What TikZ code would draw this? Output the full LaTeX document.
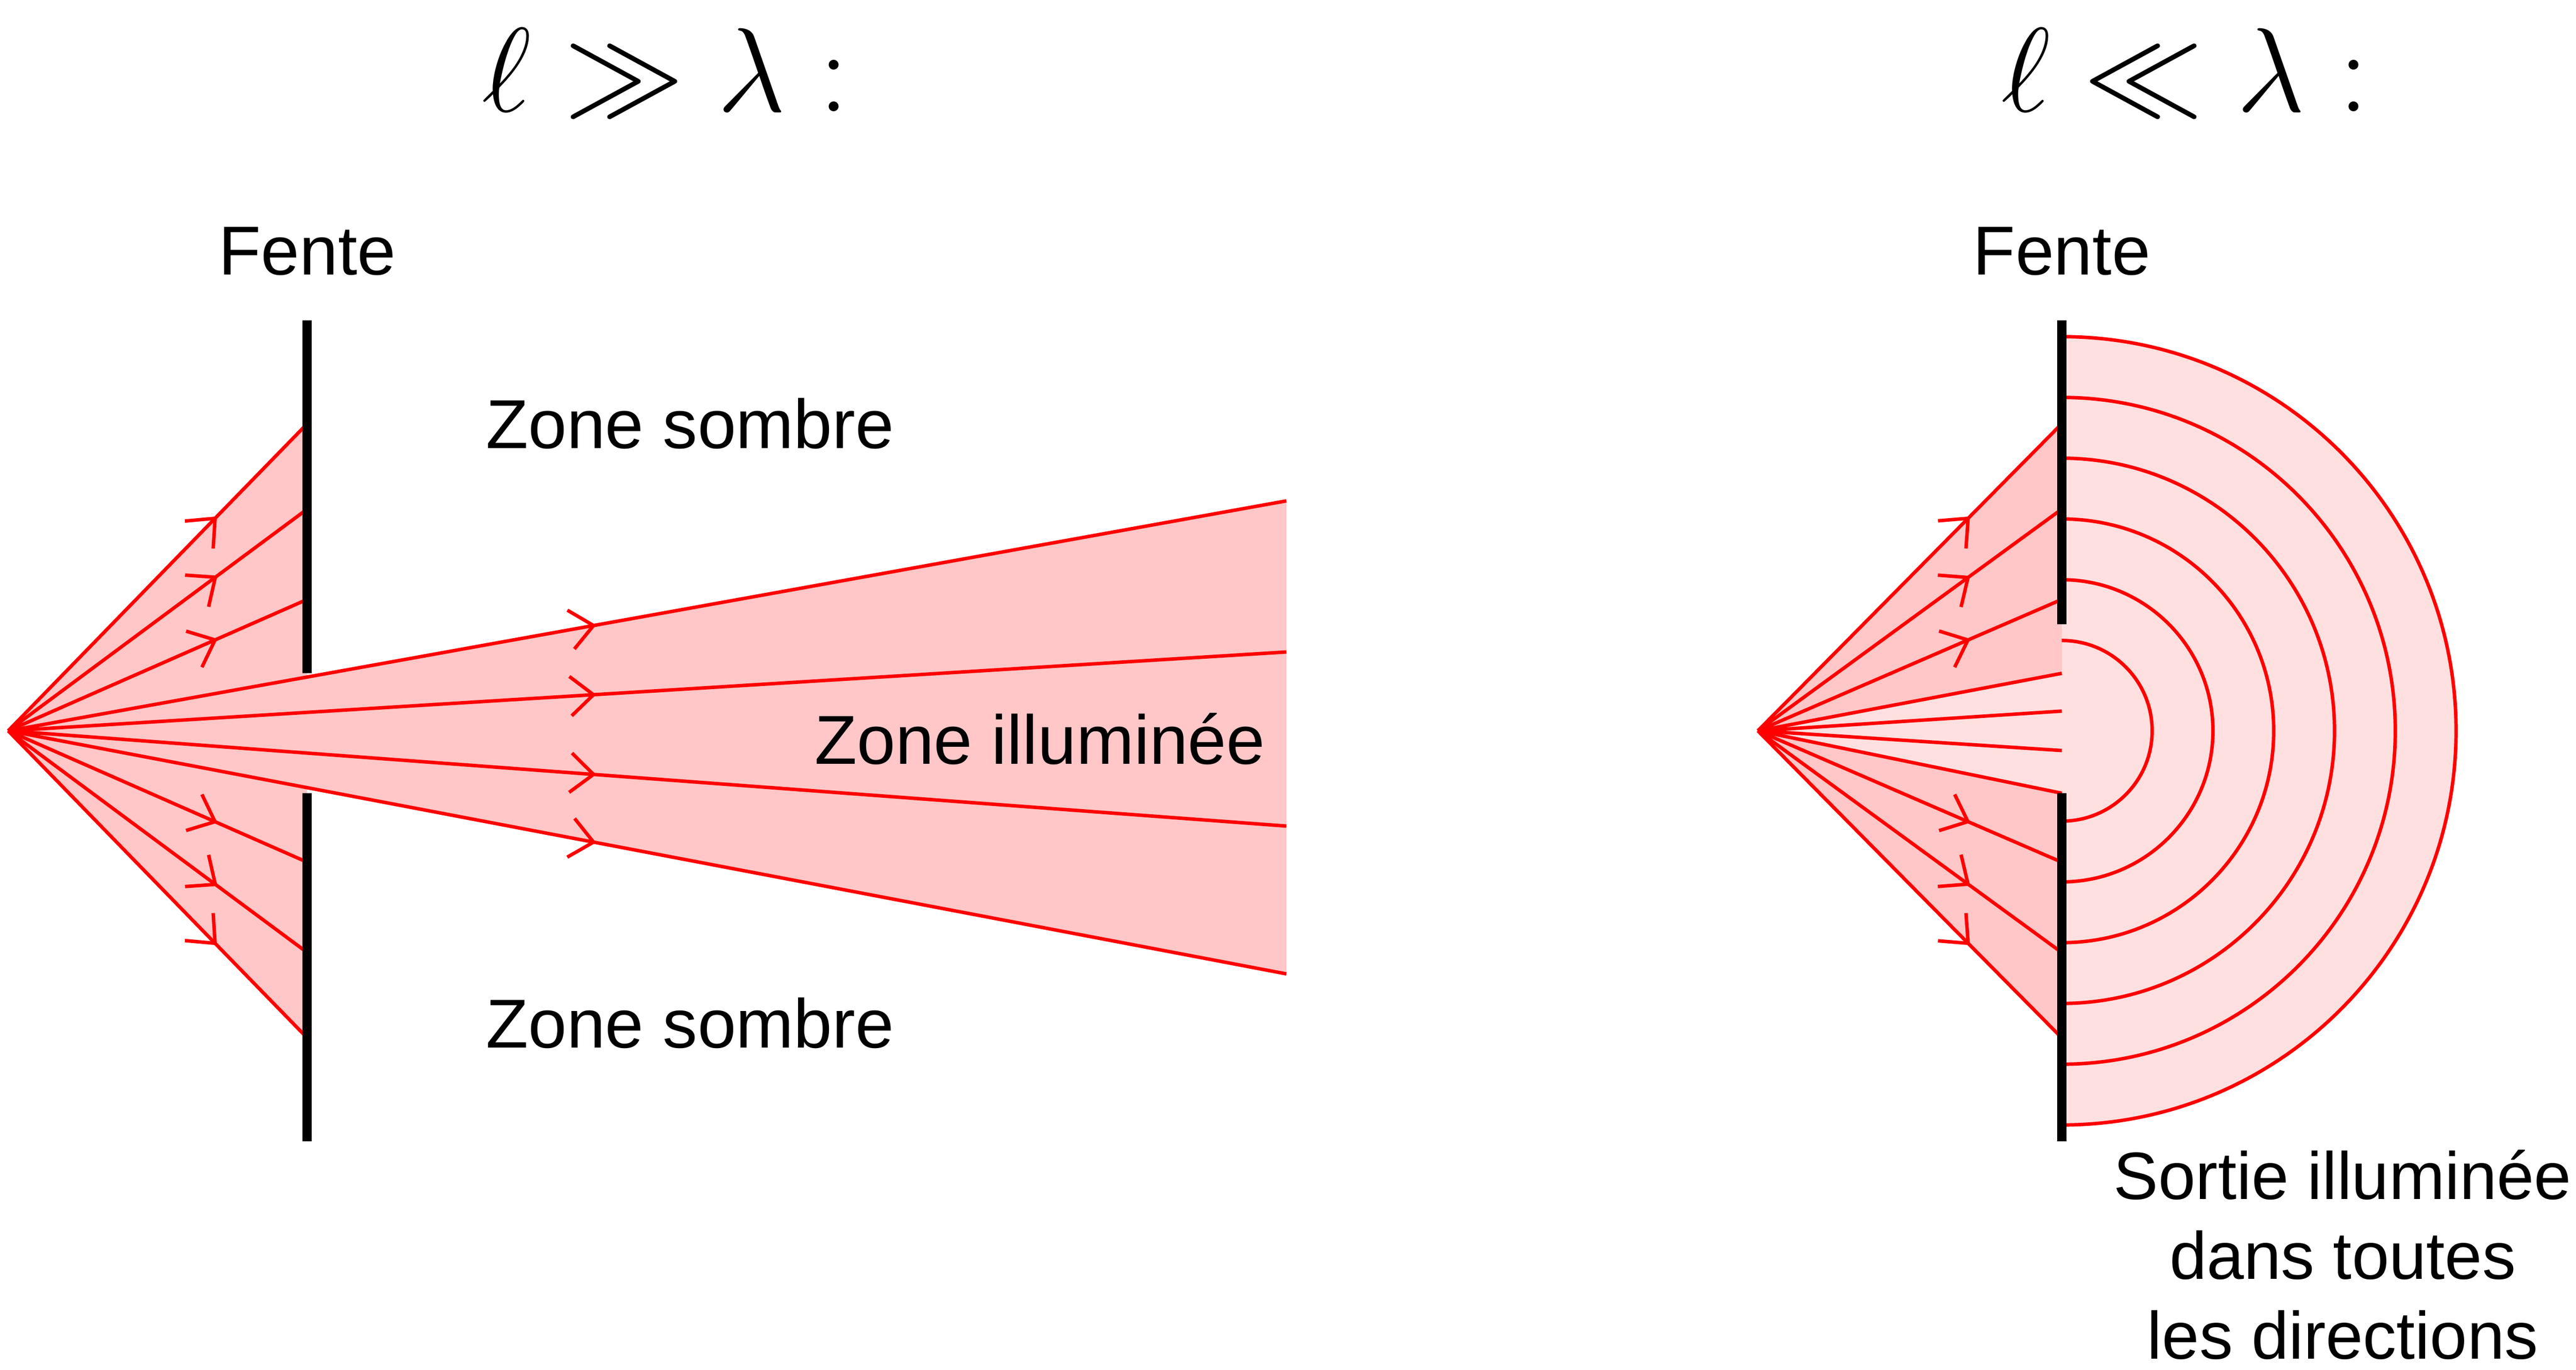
\documentclass[tikz,border=0pt]{standalone}
\usepackage{fontspec}
\setmainfont{Liberation Sans}
\usetikzlibrary{arrows.meta,decorations.markings,calc}
\tikzset{
  ray/.style   = {red, line width=0.6pt, postaction={decorate},
                  decoration={markings, mark=at position #1 with {\arrow{Straight Barb[length=1.4mm,width=2.4mm]}}}},
  plain/.style = {red, line width=0.6pt},
  slit/.style  = {black, line width=1.6pt},
  label/.style = {font=\fontsize{12}{14}\selectfont, align=center},
  title/.style = {font=\fontsize{21}{24}\selectfont}
}
\begin{document}
\begin{tikzpicture}[x=0.1mm, y=0.1mm]
  \useasboundingbox (0,0) rectangle (1568,834);

  % left panel, l >> lambda
  \coordinate (S1) at (5,389);
  \fill[red!22] (S1) -- (187,576) -- (187,202) -- cycle;
  \fill[red!22] (S1) -- (783,529) -- (783,241) -- cycle;
  \foreach \y in {576,524,469,309,254,202}
    \draw[ray=0.7] (S1) -- (187,\y);
  \foreach \y in {529,437,331,241}
    \draw[ray=0.46] (S1) -- (783,\y);
  \draw[slit] (187,639) -- (187,424);
  \draw[slit] (187,351) -- (187,139);
  \node[label] (f1) at (187,681) {Fente};
  \node[label] (z1) at (420,576) {Zone sombre};
  \node[label] (z2) at (420,211) {Zone sombre};
  \node[label] (z3) at (633,384) {Zone illuminée};
  \node[title] (t1) at (405,790) {$\ell \gg \lambda :$};

  % right panel, l << lambda
  \coordinate (S2) at (1070,389);
  \coordinate (O) at (1255,389);
  \fill[red!12] (1255,629) arc[start angle=90, end angle=-90, radius=24mm] -- cycle;
  \fill[red!22] (S2) -- (1255,576) -- (1255,202) -- cycle;
  \fill[red!12] (S2) -- (1255,424) -- (1255,351) -- cycle;
  \foreach \r in {55,92,129,166,203,240}
    \draw[plain] ($(O)+(0,\r)$) arc[start angle=90, end angle=-90, radius=\r*0.1mm];
  \foreach \y in {576,524,469,309,254,202}
    \draw[ray=0.7] (S2) -- (1255,\y);
  \foreach \y in {424,401,377,351}
    \draw[plain] (S2) -- (1255,\y);
  \draw[slit] (1255,639) -- (1255,454);
  \draw[slit] (1255,351) -- (1255,139);
  \node[label] (f2) at (1255,681) {Fente};
  \node[label, font=\fontsize{11.6}{13.8}\selectfont, inner sep=0pt] (s2) at (1426,70)
    {Sortie illuminée\\dans toutes\\les directions};
  \node[title] (t2) at (1330,790) {$\ell \ll \lambda :$};
\end{tikzpicture}
\end{document}
